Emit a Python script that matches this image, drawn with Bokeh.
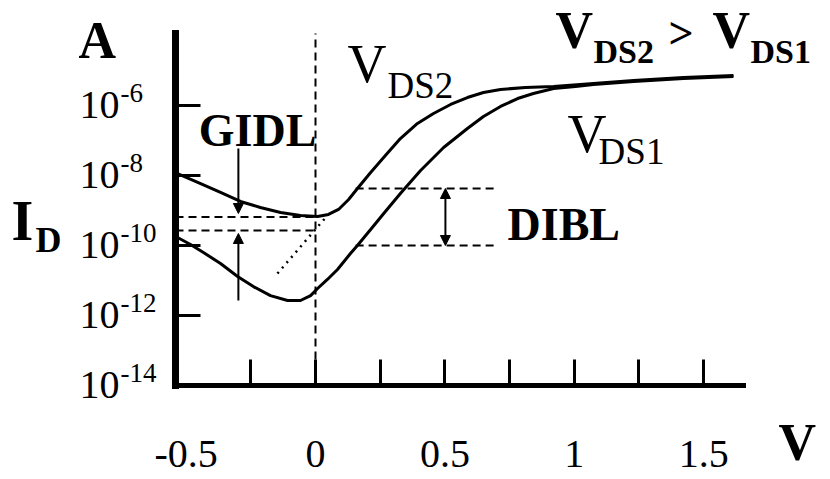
from bokeh.plotting import figure
from bokeh.models import (FixedTicker, Label, LabelSet, ColumnDataSource, Arrow,
                          NormalHead, Range1d, CustomJSTickFormatter)
from bokeh.embed import file_html
from bokeh.resources import INLINE

# ---------------- data ----------------
# gate voltage (V) and drain current (A) for the two drain biases
v_ds2 = [-0.533, -0.444, -0.367, -0.290, -0.213, -0.135, -0.058, 0.008, 0.050, 0.089,
         0.128, 0.162, 0.213, 0.270, 0.328, 0.394, 0.456, 0.522, 0.587, 0.649,
         0.715, 0.811, 0.920, 1.074, 1.229, 1.422, 1.615]
i_ds2 = [1.14e-8, 5.9e-9, 3.27e-9, 1.81e-9, 1.22e-9, 8.8e-10, 7.2e-10, 6.7e-10, 7.7e-10, 1.07e-9,
         2.06e-9, 4.25e-9, 1.22e-8, 3.7e-8, 1.14e-7, 3.06e-7, 5.9e-7, 1.07e-6, 1.69e-6, 2.35e-6,
         2.87e-6, 3.27e-6, 3.49e-6, 4.26e-6, 5.18e-6, 6.3e-6, 7.2e-6]

v_ds1 = [-0.533, -0.483, -0.433, -0.367, -0.301, -0.240, -0.174, -0.108, -0.058, -0.019,
         0.008, 0.046, 0.085, 0.135, 0.162, 0.213, 0.270, 0.328, 0.406, 0.495,
         0.587, 0.649, 0.715, 0.781, 0.842, 0.920, 1.005, 1.074, 1.229, 1.422, 1.615]
i_ds1 = [1.69e-10, 1.07e-10, 6.3e-11, 3.06e-11, 1.30e-11, 6.7e-12, 3.7e-12, 2.68e-12, 2.68e-12, 3.7e-12,
         5.9e-12, 1.07e-11, 2.06e-11, 5.9e-11, 1.0e-10, 2.86e-10, 9.4e-10, 3.06e-9, 1.39e-8, 6.3e-8,
         2.2e-7, 4.85e-7, 9.4e-7, 1.58e-6, 2.2e-6, 3.06e-6, 3.49e-6, 3.98e-6, 4.85e-6, 5.9e-6, 6.7e-6]

x_ticks_major = [-0.5, 0, 0.5, 1, 1.5]
x_tick_labels = ["-0.5", "0", "0.5", "1", "1.5"]
x_ticks_minor = [-0.25, 0, 0.25, 0.5, 0.75, 1, 1.25, 1.5]
y_ticks = [1e-14, 1e-12, 1e-10, 1e-8, 1e-6]
y_tick_exps = ["-14", "-12", "-10", "-8", "-6"]

# reference construction lines
v_zero = 0.0
gidl_levels = [6.5e-10, 2.7e-10]
dibl_levels = [4.25e-9, 1.0e-10]
dibl_v_span = [0.155, 0.707]
extrap_v = [-0.147, 0.046]
extrap_i = [1.58e-11, 7.2e-10]
gidl_arrow_v = -0.298
gidl_down = [5.9e-8, 8.2e-10]
gidl_up = [2.68e-12, 2.2e-10]
dibl_arrow_v = 0.502
dibl_arrow = [4.25e-9, 1.0e-10]

# axis extent (where the drawn axes start / end)
X_AXIS = (-0.541, 1.654)
Y_AXIS = (1e-14, 1.14e-4)
# whole-canvas view range (labels live around the axes)
X_VIEW = (-1.2172, 1.9900)
Y_VIEW = (2.06e-17, 1.0e-3)

SERIF = "Liberation Serif"

p = figure(width=830, height=479, x_range=Range1d(*X_VIEW), y_range=Range1d(*Y_VIEW),
           y_axis_type="log", output_backend="svg", toolbar_location=None,
           min_border_left=0, min_border_right=0, min_border_top=0, min_border_bottom=0)
p.grid.visible = False
p.outline_line_color = None
p.background_fill_color = "white"
p.border_fill_color = "white"

# x axis, drawn at the bottom of the data area
xa = p.xaxis[0]
xa.fixed_location = Y_AXIS[0]
xa.bounds = X_AXIS
xa.ticker = FixedTicker(ticks=x_ticks_major, minor_ticks=x_ticks_minor)
xa.major_label_overrides = dict(zip(x_ticks_major, x_tick_labels))
xa.axis_line_width = 5
xa.axis_line_color = "black"
xa.axis_line_cap = "square"
xa.major_tick_line_color = None
xa.major_tick_in = 0
xa.major_tick_out = 0
xa.minor_tick_in = 26
xa.minor_tick_out = 0
xa.minor_tick_line_width = 3
xa.minor_tick_line_color = "black"
xa.major_label_text_font = SERIF
xa.major_label_text_font_size = "40px"
xa.major_label_text_color = "black"
xa.major_label_standoff = 56

# y axis, drawn at the left of the data area
ya = p.yaxis[0]
ya.fixed_location = X_AXIS[0]
ya.bounds = Y_AXIS
ya.ticker = FixedTicker(ticks=y_ticks)
ya.formatter = CustomJSTickFormatter(code="return '10'")
ya.axis_line_width = 7
ya.axis_line_color = "black"
ya.axis_line_cap = "square"
ya.major_tick_in = 25
ya.major_tick_out = 0
ya.major_tick_line_width = 3
ya.major_tick_line_color = "black"
ya.minor_tick_line_color = None
ya.major_label_text_font = SERIF
ya.major_label_text_font_size = "40px"
ya.major_label_text_color = "black"
ya.major_label_standoff = 56

# superscript exponents of the y tick labels
ysrc = ColumnDataSource(dict(x=[X_AXIS[0]] * len(y_ticks), y=y_ticks, exp=y_tick_exps))
p.add_layout(LabelSet(x="x", y="y", text="exp", source=ysrc, x_offset=-55, y_offset=12,
                      text_align="left", text_baseline="middle",
                      text_font=SERIF, text_font_size="27px", text_color="black"))

# construction lines
p.line([v_zero, v_zero], [Y_AXIS[0], Y_AXIS[1]], line_color="black", line_width=2, line_dash="8 5")
for lv in gidl_levels:
    p.line([X_AXIS[0], v_zero], [lv, lv], line_color="black", line_width=2, line_dash="8 5")
for lv in dibl_levels:
    p.line(dibl_v_span, [lv, lv], line_color="black", line_width=2, line_dash="8 5")
p.line(extrap_v, extrap_i, line_color="black", line_width=2.5, line_dash="2 5")

# curves
p.line(v_ds2, i_ds2, line_color="black", line_width=3)
p.line(v_ds1, i_ds1, line_color="black", line_width=3)

# arrows
def head():
    return NormalHead(size=10, fill_color="black", line_color="black", line_width=1)

p.add_layout(Arrow(x_start=gidl_arrow_v, y_start=gidl_down[0], x_end=gidl_arrow_v, y_end=gidl_down[1],
                   end=head(), line_width=2, line_color="black"))
p.add_layout(Arrow(x_start=gidl_arrow_v, y_start=gidl_up[0], x_end=gidl_arrow_v, y_end=gidl_up[1],
                   end=head(), line_width=2, line_color="black"))
p.add_layout(Arrow(x_start=dibl_arrow_v, y_start=dibl_arrow[1], x_end=dibl_arrow_v, y_end=dibl_arrow[0],
                   start=head(), end=head(), line_width=2, line_color="black"))

# text annotations (vertically centred): (text, x, y, size, bold, align)
texts = [
    ("A", -0.916, 7.4e-5, "52px", True, "left"),
    ("I", -1.175, 4.85e-10, "56px", True, "left"),
    ("D", -1.082, 1.44e-10, "36px", True, "left"),
    ("V", 1.789, 2.28e-16, "52px", True, "left"),
    ("GIDL", -0.224, 1.93e-7, "46px", True, "center"),
    ("DIBL", 0.742, 3.98e-10, "46px", True, "left"),
    ("V", 0.124, 1.53e-5, "54px", False, "left"),
    ("DS2", 0.278, 3.85e-6, "37px", False, "left"),
    ("V", 0.974, 1.58e-7, "54px", False, "left"),
    ("DS1", 1.094, 5.0e-8, "37px", False, "left"),
    ("V", 0.927, 1.35e-4, "52px", True, "left"),
    ("DS2", 1.074, 3.38e-5, "34px", True, "left"),
    (">", 1.364, 1.14e-4, "44px", True, "left"),
    ("V", 1.534, 1.35e-4, "52px", True, "left"),
    ("DS1", 1.681, 3.38e-5, "34px", True, "left"),
]
for t, x, y, s, b, al in texts:
    p.add_layout(Label(x=x, y=y, text=t, text_font=SERIF, text_font_size=s,
                       text_font_style="bold" if b else "normal", text_align=al,
                       text_baseline="middle", text_color="black"))

open("out.html", "w").write(file_html(p, INLINE))
